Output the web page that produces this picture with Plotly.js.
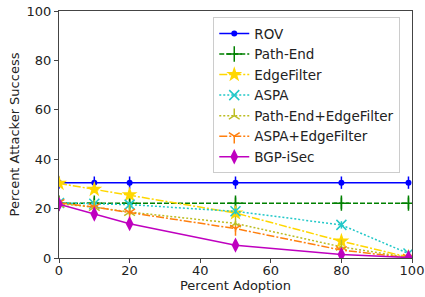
<!DOCTYPE html>
<html><head><meta charset="utf-8">
<script src="https://cdn.plot.ly/plotly-3.0.1.min.js"></script>
<style>html,body{margin:0;padding:0;background:#fff}#chart{width:425px;height:297px}</style>
</head><body><div id="chart"></div>
<script>
const adoption = [0, 10, 20, 50, 80, 99];
const rov = [30.5, 30.5, 30.5, 30.5, 30.5, 30.5];
const rovErr = [2.5, 2.5, 2.5, 2.5, 2.5, 2.5];
const pathEnd = [22.2, 22.2, 22.2, 22.2, 22.2, 22.2];
const pathEndErr = [2.3, 2.3, 2.3, 2.3, 2.3, 2.3];
const edgeFilter = [30.2, 27.8, 25.6, 18.2, 6.8, 0.3];
const edgeFilterErr = [1.2, 1.5, 1.5, 1.5, 1.5, 0.5];
const aspa = [22.3, 22.0, 21.6, 18.9, 13.4, 1.8];
const aspaErr = [1.2, 1.2, 1.2, 1.2, 1.5, 0.8];
const peEf = [22.0, 20.6, 18.6, 14.0, 4.5, 0.2];
const peEfErr = [1.0, 1.0, 1.0, 1.0, 1.0, 0.3];
const aspaEf = [22.3, 20.6, 18.4, 11.9, 3.2, 0.1];
const aspaEfErr = [1.0, 1.0, 1.0, 1.2, 1.0, 0.3];
const bgpisec = [21.8, 17.8, 13.9, 5.2, 1.4, 0.2];
const bgpisecErr = [1.5, 1.5, 1.5, 1.5, 0.8, 0.3];

function tr(name, y, err, color, dash, symbol, size, mlw) {
  return {
    x: adoption, y: y, name: name, type: 'scatter', mode: 'lines+markers',
    line: {color: color, dash: dash, width: 1.5},
    marker: {symbol: symbol, size: size, color: color, line: {color: color, width: mlw || 0}},
    error_y: {type: 'data', array: err, visible: true, color: color, thickness: 1.5, width: 0}
  };
}
const DASH = '5px,2px', DASHDOT = '8px,2px,2px,2px', DOT = '2px,2px';
const data = [
  tr('ROV', rov, rovErr, '#0000ff', 'solid', 'circle', 6),
  tr('Path-End', pathEnd, pathEndErr, '#008000', DASH, 'cross-thin-open', 11, 1.5),
  tr('EdgeFilter', edgeFilter, edgeFilterErr, '#ffd700', DASHDOT, 'star', 12),
  tr('ASPA', aspa, aspaErr, '#22c8c8', DOT, 'x-thin-open', 10, 1.5),
  tr('Path-End+EdgeFilter', peEf, peEfErr, '#bcbd22', DOT, 'y-up-open', 9, 1.5),
  tr('ASPA+EdgeFilter', aspaEf, aspaEfErr, '#ff7f0e', DASHDOT, 'y-down-open', 9, 1.5),
  tr('BGP-iSec', bgpisec, bgpisecErr, '#bf00bf', 'solid', 'diamond-tall', 11)
];
const font = {family: 'DejaVu Sans, sans-serif', size: 13, color: '#222'};
const layout = {
  width: 425, height: 297,
  margin: {l: 59, r: 13, t: 11, b: 39},
  paper_bgcolor: '#fff', plot_bgcolor: '#fff',
  font: font,
  showlegend: true,
  xaxis: {
    range: [0, 100], tickvals: [0, 20, 40, 60, 80, 100], ticks: 'outside', ticklen: 4,
    tickcolor: '#444', showgrid: false, zeroline: false, showline: true, mirror: true,
    linecolor: '#444', linewidth: 1, tickfont: font, ticklabelstandoff: -4,
    title: {text: 'Percent Adoption', font: font, standoff: 0}
  },
  yaxis: {
    range: [0, 100], tickvals: [0, 20, 40, 60, 80, 100], ticks: 'outside', ticklen: 4,
    tickcolor: '#444', showgrid: false, zeroline: false, showline: true, mirror: true,
    linecolor: '#444', linewidth: 1, tickfont: font,
    title: {text: 'Percent Attacker Success', font: font, standoff: 4}
  },
  legend: {
    x: 0.437, y: 0.975, xanchor: 'left', yanchor: 'top',
    bgcolor: 'rgba(255,255,255,0.9)', bordercolor: '#ccc', borderwidth: 1,
    font: {family: 'DejaVu Sans, sans-serif', size: 13.5, color: '#222'},
    tracegroupgap: 0
  }
};
Plotly.newPlot('chart', data, layout, {displayModeBar: false, staticPlot: true});
</script></body></html>
